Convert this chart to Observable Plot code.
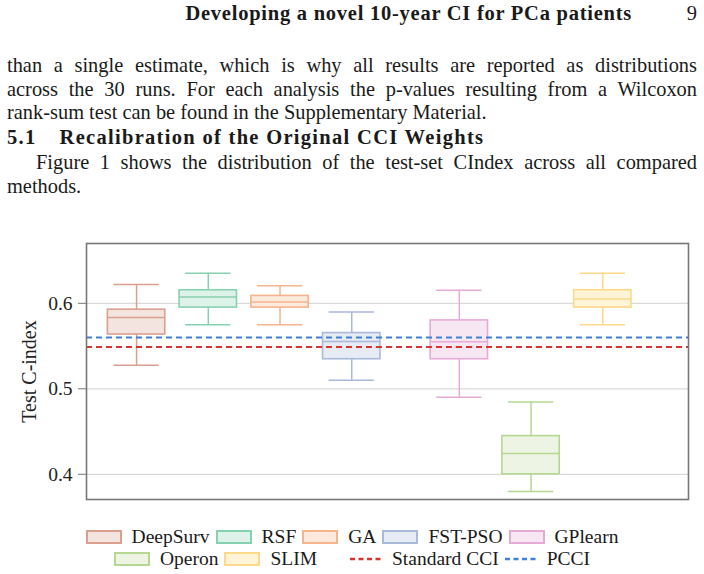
<!DOCTYPE html>
<html>
<head>
<meta charset="utf-8">
<script src="https://cdn.jsdelivr.net/npm/d3@7"></script>
<script src="https://cdn.jsdelivr.net/npm/@observablehq/plot@0.6"></script>
<style>
  html, body { margin: 0; padding: 0; background: #fff; }
  body { width: 704px; height: 574px; position: relative; overflow: hidden;
         font-family: "Liberation Serif", "DejaVu Serif", serif; color: #1a1a1a; }
  .abs { position: absolute; }
  .line { position: absolute; left: 7px; width: 690px; font-size: 20.4px; line-height: 24px;
          text-align: justify; text-align-last: justify; }
  .last { text-align: left; text-align-last: left; }
  #chart { position: absolute; left: 0; top: 222px; }
  #legend { position: absolute; left: 0; top: 526px; width: 704px; font-size: 19.5px; }
  .row { display: flex; justify-content: center; align-items: center; height: 22px; }
  .item { display: flex; align-items: center; margin: 0 3px; }
  .item svg { margin-right: 10px; }
</style>
</head>
<body>
<div class="abs" style="top:1px;right:72px;font-size:20.5px;line-height:24px;font-weight:bold;letter-spacing:0.75px;">Developing a novel 10-year CI for PCa patients</div>
<div class="abs" style="top:1px;right:7px;font-size:20.5px;line-height:24px;">9</div>

<div class="line" style="top:53px;">than a single estimate, which is why all results are reported as distributions</div>
<div class="line" style="top:76.5px;">across the 30 runs. For each analysis the p-values resulting from a Wilcoxon</div>
<div class="line last" style="top:100px;">rank-sum test can be found in the Supplementary Material.</div>
<div class="abs" style="top:125px;left:7px;font-size:20.5px;line-height:24px;font-weight:bold;letter-spacing:1.3px;">5.1<span style="display:inline-block;width:23px"></span>Recalibration of the Original CCI Weights</div>
<div class="line" style="top:150px;left:36px;width:661px;">Figure 1 shows the distribution of the test-set CIndex across all compared</div>
<div class="line last" style="top:173.5px;">methods.</div>

<div id="chart"></div>
<div id="legend"></div>

<script>
// ---- data ----
const methods      = ["DeepSurv", "RSF", "GA", "FST-PSO", "GPlearn", "Operon", "SLIM"];
const positions    = [0, 1, 2, 3, 4.5, 5.5, 6.5];
const whiskerLow   = [0.5275, 0.575, 0.575, 0.510, 0.490, 0.380, 0.575];
const q1           = [0.5635, 0.595, 0.595, 0.5346, 0.5346, 0.400, 0.595];
const median       = [0.5835, 0.6075, 0.6016, 0.5553, 0.555, 0.4243, 0.6052];
const q3           = [0.5926, 0.6153, 0.6087, 0.5652, 0.580, 0.4447, 0.6153];
const whiskerHigh  = [0.622, 0.6353, 0.6205, 0.590, 0.6153, 0.4847, 0.6353];
const strokeColors = ["#d9a08e", "#88d1b0", "#f5b48c", "#a9b9d9", "#e5aad6", "#b5d791", "#fdd98a"];
const fillColors   = ["#f3e4df", "#ddf2e8", "#fdeadf", "#e7ebf4", "#f7e7f3", "#edf4e3", "#fff3d8"];

const refNames  = ["Standard CCI", "PCCI"];
const refValues = [0.549, 0.560];
const refColors = ["#d93030", "#3d80d6"];

const yTicks = [0.4, 0.5, 0.6];
const yLabel = "Test C-index";

// ---- table ----
const boxes = methods.map((m, i) => ({
  method: m, pos: positions[i], lo: whiskerLow[i], q1: q1[i], med: median[i],
  q3: q3[i], hi: whiskerHigh[i], stroke: strokeColors[i], fill: fillColors[i]
}));
const refs = refNames.map((n, i) => ({name: n, value: refValues[i], color: refColors[i]}));

const halfBox = 0.4, halfCap = 0.316;

const chart = Plot.plot({
  width: 704,
  height: 290,
  marginLeft: 86,
  marginRight: 16,
  marginTop: 21,
  marginBottom: 13,
  style: {fontFamily: "Liberation Serif, serif", fontSize: "19.5px", color: "#222", background: "transparent"},
  x: {domain: [-0.698, 7.695], axis: null},
  y: {domain: [0.3705, 0.670]},
  marks: [
    Plot.ruleY(yTicks, {stroke: "#dadada", strokeWidth: 1.3}),
    Plot.axisY(yTicks, {tickFormat: d => d.toFixed(1), tickSize: 8, tickPadding: 6, stroke: "#777", label: null, fontSize: 19.5}),
    Plot.text([yLabel], {frameAnchor: "left", textAnchor: "middle", rotate: -90, dx: -57, fontSize: 20, fill: "#222"}),
    // whiskers
    Plot.ruleX(boxes, {x: "pos", y1: "lo", y2: "q1", stroke: "stroke", strokeWidth: 1.5}),
    Plot.ruleX(boxes, {x: "pos", y1: "q3", y2: "hi", stroke: "stroke", strokeWidth: 1.5}),
    // caps
    Plot.ruleY(boxes, {y: "lo", x1: d => d.pos - halfCap, x2: d => d.pos + halfCap, stroke: "stroke", strokeWidth: 1.5}),
    Plot.ruleY(boxes, {y: "hi", x1: d => d.pos - halfCap, x2: d => d.pos + halfCap, stroke: "stroke", strokeWidth: 1.5}),
    // boxes
    Plot.rect(boxes, {x1: d => d.pos - halfBox, x2: d => d.pos + halfBox, y1: "q1", y2: "q3", fill: "fill", stroke: "stroke", strokeWidth: 1.6}),
    Plot.ruleY(boxes, {y: "med", x1: d => d.pos - halfBox, x2: d => d.pos + halfBox, stroke: "stroke", strokeWidth: 1.5}),
    // reference lines
    Plot.ruleY(refs, {y: "value", stroke: "color", strokeWidth: 2, strokeDasharray: "6,4"}),
    Plot.frame({stroke: "#777", strokeWidth: 1.6})
  ]
});
document.getElementById("chart").appendChild(chart);

// ---- legend ----
const legendRows = [
  methods.slice(0, 5).map((m, i) => ({label: m, type: "box", stroke: strokeColors[i], fill: fillColors[i]})),
  methods.slice(5).map((m, i) => ({label: m, type: "box", stroke: strokeColors[i + 5], fill: fillColors[i + 5]}))
    .concat(refs.map(r => ({label: r.name, type: "line", stroke: r.color})))
];
const legend = document.getElementById("legend");
legendRows.forEach((row, ri) => {
  const div = document.createElement("div");
  div.className = "row";
  row.forEach((it, k) => {
    const item = document.createElement("div");
    item.className = "item";
    if (it.type === "line" && k > 0 && row[k - 1].type !== "line") item.style.marginLeft = "30px";
    const sw = it.type === "box"
      ? `<svg width="36" height="14"><rect x="1" y="1" width="34" height="12" fill="${it.fill}" stroke="${it.stroke}" stroke-width="2"/></svg>`
      : `<svg width="32" height="14"><line x1="0" x2="32" y1="7" y2="7" stroke="${it.stroke}" stroke-width="2.5" stroke-dasharray="5,3.5"/></svg>`;
    item.innerHTML = sw + `<span>${it.label}</span>`;
    div.appendChild(item);
  });
  legend.appendChild(div);
});
</script>
</body>
</html>
